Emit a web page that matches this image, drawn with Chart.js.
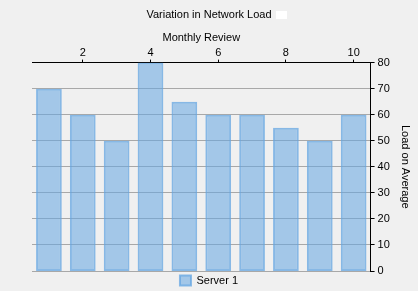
<!DOCTYPE html>
<html>
<head>
<meta charset="utf-8">
<script src="https://cdn.jsdelivr.net/npm/chart.js@4/dist/chart.umd.min.js"></script>
<style>
  html, body { margin: 0; padding: 0; background: #f0f0f0; }
  #wrap { width: 418px; height: 291px; }
</style>
</head>
<body>
<div id="wrap"><canvas id="c" width="418" height="291"></canvas></div>
<script>
// Monthly load figures for the single server
const months = ['1', '2', '3', '4', '5', '6', '7', '8', '9', '10'];
const server1Load = [70, 60, 50, 80, 65, 60, 60, 55, 50, 60];
const loadTicks = [0, 10, 20, 30, 40, 50, 60, 70, 80];

const FONT = "'Liberation Sans', Arial, sans-serif";
const SIZE = 11;

// Small white marker drawn just after the chart title
const titleMarker = {
  id: 'titleMarker',
  afterDraw(chart) {
    const t = chart.titleBlock;
    if (!t) return;
    const ctx = chart.ctx;
    ctx.save();
    ctx.font = SIZE + 'px ' + FONT;
    const w = ctx.measureText(chart.options.plugins.title.text).width;
    const cx = (t.left + t.right) / 2;
    const cy = (t.top + t.bottom) / 2;
    ctx.fillStyle = '#ffffff';
    ctx.fillRect(Math.round(cx + w / 2 + 4), Math.round(cy - 5), 11, 8);
    ctx.restore();
  }
};

new Chart(document.getElementById('c'), {
  type: 'bar',
  data: {
    labels: months,
    datasets: [{
      label: 'Server 1',
      data: server1Load,
      backgroundColor: 'rgba(100,165,225,0.55)',
      borderColor: 'rgba(100,165,225,0.75)',
      borderWidth: 2,
      borderSkipped: false,
      barPercentage: 0.76,
      categoryPercentage: 1.0
    }]
  },
  options: {
    responsive: false,
    animation: false,
    layout: { padding: { left: 0, right: 0, top: 0, bottom: -5 } },
    plugins: {
      title: {
        display: true,
        text: 'Variation in Network Load',
        color: '#000',
        font: { family: FONT, size: SIZE, weight: 'normal' },
        padding: { top: 8, bottom: 10 }
      },
      legend: {
        position: 'bottom',
        labels: {
          color: '#000',
          font: { family: FONT, size: SIZE },
          boxWidth: 11,
          boxHeight: 10,
          padding: 4
        }
      },
      tooltip: { enabled: false }
    },
    scales: {
      x: {
        position: 'top',
        offset: true,
        title: {
          display: true,
          text: 'Monthly Review',
          color: '#000',
          font: { family: FONT, size: SIZE },
          padding: { top: 0, bottom: 2 }
        },
        ticks: {
          color: '#000',
          font: { family: FONT, size: SIZE },
          autoSkip: false,
          maxRotation: 0,
          padding: 0,
          callback: function (v, i) { return (i % 2 === 1) ? months[i] : ''; }
        },
        grid: {
          offset: false,
          drawOnChartArea: false,
          tickLength: 3,
          tickColor: function (ctx) { return (ctx.index % 2 === 1) ? '#000' : 'rgba(0,0,0,0)'; }
        },
        border: { display: true, color: '#000', width: 1 }
      },
      // empty left margin scale, keeps the plot area inset from the left edge
      margin: {
        position: 'left',
        display: true,
        ticks: { display: false },
        grid: { display: false },
        border: { display: false },
        afterFit: function (scale) { scale.width = 32; }
      },
      y: {
        position: 'right',
        min: 0,
        max: 80,
        afterBuildTicks: function (axis) {
          axis.ticks = loadTicks.map(v => ({ value: v }));
        },
        title: {
          display: true,
          text: 'Load on Average',
          color: '#000',
          font: { family: FONT, size: SIZE },
          padding: { top: 6, bottom: 6 }
        },
        ticks: {
          color: '#000',
          font: { family: FONT, size: SIZE },
          padding: 3
        },
        grid: {
          color: function (ctx) { return ctx.tick && ctx.tick.value === 80 ? 'rgba(0,0,0,0)' : '#a8a8a8'; },
          tickColor: '#000',
          tickLength: 4
        },
        border: { display: true, color: '#000', width: 1 }
      }
    }
  },
  plugins: [titleMarker]
});
</script>
</body>
</html>
